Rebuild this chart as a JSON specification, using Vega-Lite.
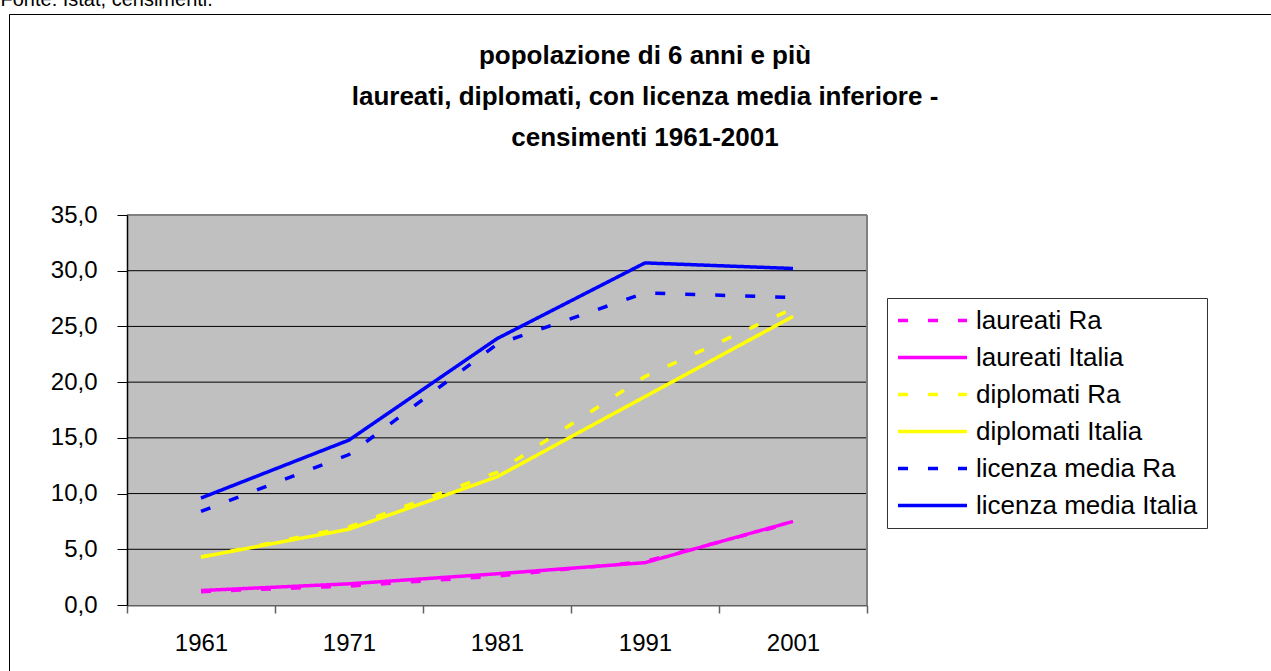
{
  "$schema": "https://vega.github.io/schema/vega-lite/v6.json",
  "width": 1262,
  "height": 657,
  "autosize": {"type": "none"},
  "padding": {"left": 9, "top": 14, "right": 0, "bottom": 0},
  "background": "white",
  "config": {
    "font": "Liberation Sans",
    "locale": {"number": {"decimal": ",", "thousands": ".", "grouping": [3], "currency": ["", " €"]}},
    "view": {"stroke": "#000", "strokeWidth": 1, "strokeDash": [1262, 1919, 657]}
  },
  "title": {
    "text": ["popolazione di 6 anni e più", "laureati, diplomati, con licenza media inferiore -", "censimenti 1961-2001"],
    "font": "Liberation Sans",
    "fontSize": 26,
    "fontWeight": "bold",
    "color": "#000",
    "anchor": "middle",
    "frame": "group",
    "lineHeight": 41,
    "offset": -162,
    "dx": 5
  },
  "resolve": {"scale": {"x": "independent"}, "axis": {"y": "independent"}},
  "layer": [
    {
      "data": {"values": [{}]},
      "mark": {"type": "rect", "color": "#C0C0C0"},
      "encoding": {
        "x": {"datum": 0, "type": "quantitative", "scale": {"domain": [0, 1], "range": [118, 858]}, "axis": null},
        "x2": {"datum": 1},
        "y": {
          "datum": 0,
          "type": "quantitative",
          "scale": {"domain": [0, 35], "range": [591, 201], "nice": false, "zero": false},
          "axis": {
            "orient": "left",
            "offset": -118,
            "values": [0, 5, 10, 15, 20, 25, 30, 35],
            "format": ".1f",
            "grid": false,
            "zindex": 1,
            "domainColor": "#000",
            "domainWidth": 1.5,
            "tickColor": "#000",
            "tickSize": 10,
            "tickWidth": 1,
            "labelFont": "Liberation Sans",
            "labelFontSize": 24,
            "labelColor": "#000",
            "labelPadding": 20,
            "title": null
          }
        },
        "y2": {"datum": 35}
      }
    },
    {
      "data": {"values": [{"griglia": 5}, {"griglia": 10}, {"griglia": 15}, {"griglia": 20}, {"griglia": 25}, {"griglia": 30}]},
      "mark": {"type": "rule", "color": "#000", "strokeWidth": 1},
      "encoding": {
        "x": {"datum": 0, "type": "quantitative", "scale": {"domain": [0, 1], "range": [118, 858]}, "axis": null},
        "x2": {"datum": 1},
        "y": {"field": "griglia", "type": "quantitative", "scale": {"domain": [0, 35], "range": [591, 201], "nice": false, "zero": false}, "axis": null}
      }
    },
    {
      "data": {"values": [{}]},
      "mark": {"type": "rule", "color": "#808080", "strokeWidth": 2},
      "encoding": {
        "x": {"datum": 0, "type": "quantitative", "scale": {"domain": [0, 1], "range": [118, 858]}, "axis": null},
        "x2": {"datum": 1},
        "y": {"datum": 35, "type": "quantitative", "scale": {"domain": [0, 35], "range": [591, 201], "nice": false, "zero": false}, "axis": null}
      }
    },
    {
      "data": {"values": [{}]},
      "mark": {"type": "rule", "color": "#808080", "strokeWidth": 2},
      "encoding": {
        "x": {"datum": 1, "type": "quantitative", "scale": {"domain": [0, 1], "range": [118, 858]}, "axis": null},
        "y": {"datum": 0, "type": "quantitative", "scale": {"domain": [0, 35], "range": [591, 201], "nice": false, "zero": false}, "axis": null},
        "y2": {"datum": 35}
      }
    },
    {
      "data": {
        "values": [
          {"anno": "1961", "serie": "laureati Ra", "valore": 1.2},
          {"anno": "1971", "serie": "laureati Ra", "valore": 1.7},
          {"anno": "1981", "serie": "laureati Ra", "valore": 2.6},
          {"anno": "1991", "serie": "laureati Ra", "valore": 3.9},
          {"anno": "2001", "serie": "laureati Ra", "valore": 7.4},
          {"anno": "1961", "serie": "laureati Italia", "valore": 1.3},
          {"anno": "1971", "serie": "laureati Italia", "valore": 1.9},
          {"anno": "1981", "serie": "laureati Italia", "valore": 2.8},
          {"anno": "1991", "serie": "laureati Italia", "valore": 3.8},
          {"anno": "2001", "serie": "laureati Italia", "valore": 7.5},
          {"anno": "1961", "serie": "diplomati Ra", "valore": 4.3},
          {"anno": "1971", "serie": "diplomati Ra", "valore": 7.0},
          {"anno": "1981", "serie": "diplomati Ra", "valore": 11.9},
          {"anno": "1991", "serie": "diplomati Ra", "valore": 20.5},
          {"anno": "2001", "serie": "diplomati Ra", "valore": 26.6},
          {"anno": "1961", "serie": "diplomati Italia", "valore": 4.3},
          {"anno": "1971", "serie": "diplomati Italia", "valore": 6.8},
          {"anno": "1981", "serie": "diplomati Italia", "valore": 11.5},
          {"anno": "1991", "serie": "diplomati Italia", "valore": 18.7},
          {"anno": "2001", "serie": "diplomati Italia", "valore": 25.9},
          {"anno": "1961", "serie": "licenza media Ra", "valore": 8.4},
          {"anno": "1971", "serie": "licenza media Ra", "valore": 13.5},
          {"anno": "1981", "serie": "licenza media Ra", "valore": 23.4},
          {"anno": "1991", "serie": "licenza media Ra", "valore": 28.0},
          {"anno": "2001", "serie": "licenza media Ra", "valore": 27.6},
          {"anno": "1961", "serie": "licenza media Italia", "valore": 9.6},
          {"anno": "1971", "serie": "licenza media Italia", "valore": 14.8},
          {"anno": "1981", "serie": "licenza media Italia", "valore": 23.9},
          {"anno": "1991", "serie": "licenza media Italia", "valore": 30.7},
          {"anno": "2001", "serie": "licenza media Italia", "valore": 30.2}
        ]
      },
      "mark": {"type": "line", "strokeWidth": 3.5},
      "encoding": {
        "x": {
          "field": "anno",
          "type": "ordinal",
          "scale": {"type": "band", "domain": ["1961", "1971", "1981", "1991", "2001"], "range": [118, 858], "paddingInner": 0, "paddingOuter": 0},
          "axis": {
            "orient": "bottom",
            "offset": -66,
            "title": null,
            "grid": false,
            "domainColor": "#606060",
            "domainWidth": 2,
            "tickBand": "extent",
            "tickColor": "#606060",
            "tickSize": 8,
            "tickWidth": 1.5,
            "labelAngle": 0,
            "labelFont": "Liberation Sans",
            "labelFontSize": 24,
            "labelColor": "#000",
            "labelPadding": 18
          }
        },
        "y": {
          "field": "valore",
          "type": "quantitative",
          "scale": {"domain": [0, 35], "range": [591, 201], "nice": false, "zero": false},
          "axis": {
            "orient": "left",
            "domain": false,
            "ticks": false,
            "labels": false,
            "grid": false,
            "title": "Fonte: Istat, censimenti.",
            "titleAngle": 0,
            "titleAlign": "left",
            "titleBaseline": "alphabetic",
            "titleX": -9,
            "titleY": -9,
            "titleFont": "Liberation Sans",
            "titleFontSize": 20,
            "titleFontWeight": "normal",
            "titleColor": "#000"
          }
        },
        "color": {
          "field": "serie",
          "type": "nominal",
          "scale": {
            "domain": ["laureati Ra", "laureati Italia", "diplomati Ra", "diplomati Italia", "licenza media Ra", "licenza media Italia"],
            "range": ["#FF00FF", "#FF00FF", "#FFFF00", "#FFFF00", "#0000FF", "#0000FF"]
          },
          "legend": {
            "orient": "none",
            "legendX": 878,
            "legendY": 284,
            "title": null,
            "strokeColor": "#333",
            "fillColor": "#fff",
            "padding": 9,
            "symbolType": "M-1,0H5",
            "symbolSize": 529,
            "symbolStrokeWidth": 3.5,
            "labelFont": "Liberation Sans",
            "labelFontSize": 26,
            "labelColor": "#000",
            "labelOffset": 53,
            "rowPadding": 10,
            "labelLimit": 500
          }
        },
        "strokeDash": {
          "field": "serie",
          "type": "nominal",
          "scale": {
            "domain": ["laureati Ra", "laureati Italia", "diplomati Ra", "diplomati Italia", "licenza media Ra", "licenza media Italia"],
            "range": [[10, 20], [1, 0], [10, 20], [1, 0], [10, 20], [1, 0]]
          },
          "legend": {
            "orient": "none",
            "legendX": 878,
            "legendY": 284,
            "title": null,
            "strokeColor": "#333",
            "fillColor": "#fff",
            "padding": 9,
            "symbolType": "M-1,0H5",
            "symbolSize": 529,
            "symbolStrokeWidth": 3.5,
            "labelFont": "Liberation Sans",
            "labelFontSize": 26,
            "labelColor": "#000",
            "labelOffset": 53,
            "rowPadding": 10,
            "labelLimit": 500
          }
        }
      }
    }
  ]
}
